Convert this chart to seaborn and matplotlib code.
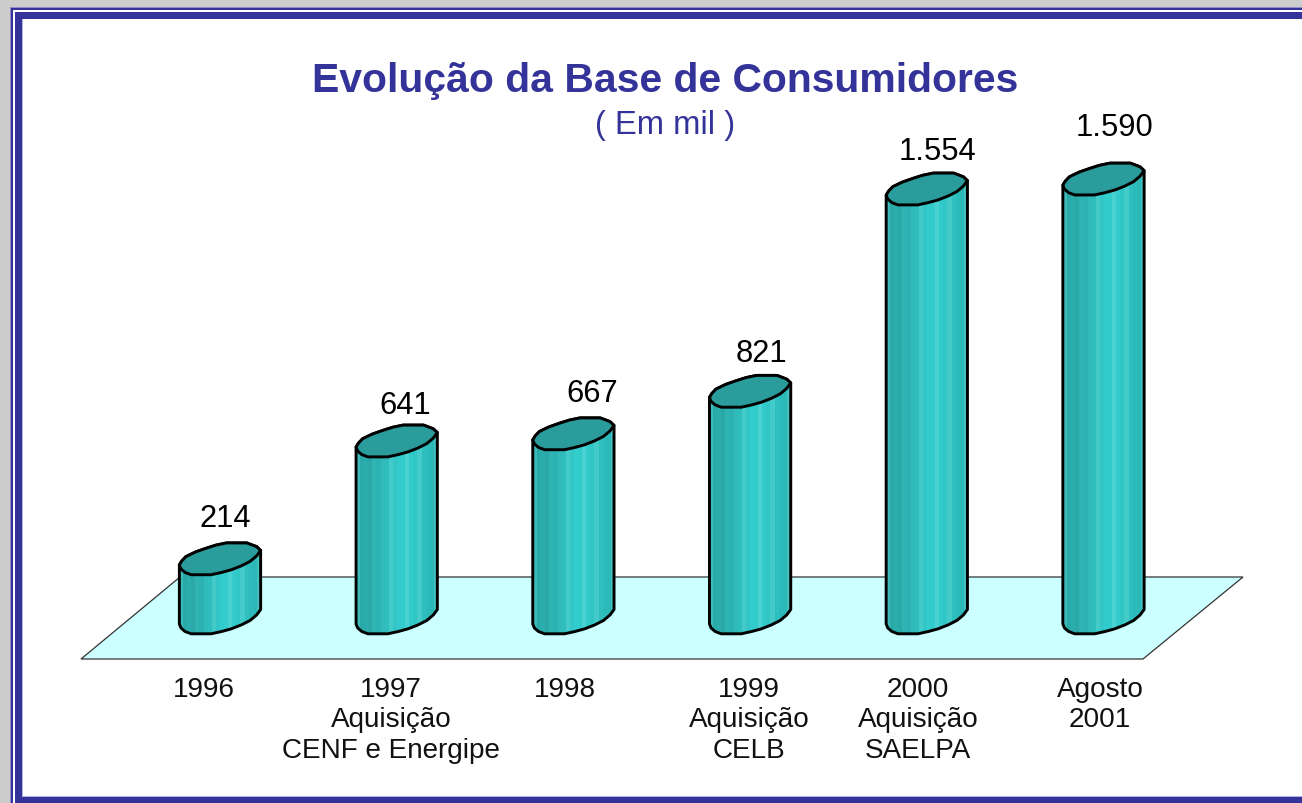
import numpy as np
import pandas as pd
import matplotlib
matplotlib.use("Agg")
import matplotlib.pyplot as plt
import matplotlib.patches as mpatches
import matplotlib.transforms as mtransforms
from matplotlib.colors import ListedColormap
import seaborn as sns

# Data
categories = ["1996", "1997\nAquisição\nCENF e Energipe", "1998",
              "1999\nAquisição\nCELB", "2000\nAquisição\nSAELPA", "Agosto\n2001"]
values = [214, 641, 667, 821, 1554, 1590]
value_labels = ["214", "641", "667", "821", "1.554", "1.590"]

# Label placement in pixels
label_dx = [5, 8, 19, 11, 11, 11]
label_dy = [49, 44, 49, 46, 46, 60]
tick_x = [204, 391, 565, 749, 918, 1100]

W, H = 1302, 804
BLUE = "#333399"
font = ["Liberation Sans", "DejaVu Sans"]

sns.set_theme(style="white")
plt.rcParams["font.family"] = font

fig = plt.figure(figsize=(W / 100, H / 100), dpi=100, facecolor="white")
ax = fig.add_axes([0, 0, 1, 1])
ax.axis("off")

# Image style pixel coordinates for frame, floor and text
px = mtransforms.Affine2D().scale(1, -1).translate(0, H)


def frame_rect(x0, y0, x1, y1, color):
    fig.patches.append(mpatches.Rectangle((x0, y0), x1 - x0, y1 - y0, transform=px, facecolor=color,
                                          edgecolor="none", figure=fig, zorder=-5))


# Grey slide background with the double blue border
frame_rect(0, 0, W, H, "#CCCCCC")
frame_rect(10, 8, W, H, "#8F8FC4")
frame_rect(11, 9, W, H, BLUE)
frame_rect(13, 11, W, H, "white")
frame_rect(15, 13, W, H, BLUE)
frame_rect(22, 20, W, 798, "#B4B4E0")
frame_rect(23, 20, W, 797, "white")

# Floor
fig.patches.append(mpatches.Polygon([(81, 660), (1143, 660), (1243, 578), (180, 578)], closed=True, transform=px,
                                    facecolor="#CCFFFF", edgecolor="#333333", linewidth=0.9, figure=fig, zorder=-4))

# Bars
df = pd.DataFrame({"category": categories, "value": values})
sns.barplot(df, x="category", y="value", order=categories, color="#2FBABA", width=0.46, saturation=1, ax=ax)
ax.axis("off")

# value 0 sits at pixel 625, 0.276 px per unit, first bar centred on 220, 176.7 px between bars
px_per_unit = 0.276
px_per_cat = 176.7
ax.set_xlim(-220 / px_per_cat, (W - 220) / px_per_cat)
ax.set_ylim((625 - H) / px_per_unit, 625 / px_per_unit)

# Tilted cylinder outline: fraction of bar width, pixels above the left corner
front_arc = [(0, 0), (.02, -4), (.07, -7.5), (.145, -9.8), (.39, -9.8), (.52, -7.5), (.64, -4.8), (.76, -1),
             (.87, 3.5), (.95, 9), (1, 14.5)]
back_arc = [(.95, 18.3), (.83, 22), (.58, 22), (.45, 19.8), (.33, 16.7), (.2, 13), (.08, 8.3), (.03, 4)]

# Vertical shading across the cylinder
band_colors = ["#3FBABA", "#2AA9A9", "#2CADAD", "#2BA8A8", "#2FB3B3", "#2DB2B2", "#30BABA", "#30BDBD", "#45CACA",
               "#32C6C6", "#33CCCC", "#33CCCC", "#4AD2D2", "#32CACA", "#31C6C6", "#45CACA", "#2FBFBF", "#2DBABA",
               "#2DB8B8", "#45C0C0"]
shade = ListedColormap(band_colors)

for bar in ax.containers[0]:
    x0, w, h = bar.get_x(), bar.get_width(), bar.get_height()
    front = [(x0 + fx * w, h + dy / px_per_unit) for fx, dy in front_arc]
    back = [(x0 + fx * w, h + dy / px_per_unit) for fx, dy in back_arc]
    bottom = [(x, y - h) for x, y in front]

    outline = bottom + front[::-1][:1] + back + front[:1]
    body = mpatches.Polygon(outline, closed=True, facecolor="none", edgecolor="black", linewidth=2.1,
                            joinstyle="round", zorder=6)
    ax.add_patch(body)
    bar.set_clip_path(body)
    bar.set_zorder(3)

    im = ax.imshow(np.arange(len(band_colors))[np.newaxis, :], cmap=shade, aspect="auto", zorder=4,
                   extent=(x0, x0 + w, -100, h + 100), interpolation="nearest")
    im.set_clip_path(body)

    top = mpatches.Polygon(front + back, closed=True, facecolor="#2A9C9C", edgecolor="black", linewidth=2.1,
                           joinstyle="round", zorder=7)
    ax.add_patch(top)

ax.set_xlim(-220 / px_per_cat, (W - 220) / px_per_cat)
ax.set_ylim((625 - H) / px_per_unit, 625 / px_per_unit)

# Value labels
for i, v in enumerate(values):
    x = 220 + px_per_cat * i + label_dx[i]
    y = 627 - v * px_per_unit - label_dy[i]
    ax.text(x, y, value_labels[i], transform=px, ha="center", va="center", fontsize=22.2, color="black", zorder=8)

# Category labels
for i, c in enumerate(categories):
    ax.text(tick_x[i], 677, c, transform=px, ha="center", va="top", fontsize=20.1, color="#111111",
            linespacing=1.22, zorder=8)

ax.text(665, 81, "Evolução da Base de Consumidores", transform=px, ha="center", va="center",
        fontsize=29.4, fontweight="bold", color=BLUE, zorder=8)
ax.text(665, 126, "( Em mil )", transform=px, ha="center", va="center", fontsize=23.6, color=BLUE, zorder=8)

fig.savefig("out.png", dpi=100, facecolor=fig.get_facecolor())
